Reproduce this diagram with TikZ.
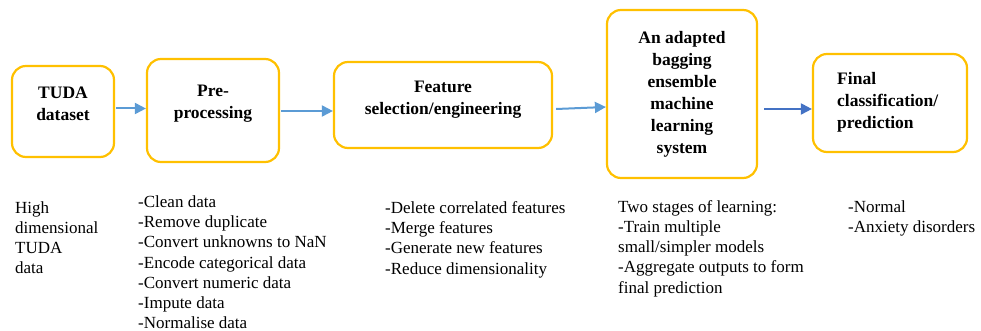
\documentclass[tikz,border=0pt]{standalone}
\usepackage{fontspec}
\setmainfont{Liberation Serif}[BoldFont={Liberation Serif Bold}]
\usetikzlibrary{arrows.meta}
\definecolor{boxor}{HTML}{FFC000}
\definecolor{arrl}{HTML}{5B9BD5}
\definecolor{arrd}{HTML}{4472C4}
\begin{document}
\begin{tikzpicture}[x=1pt,y=-1pt,
  box/.style={draw=boxor,line width=2.2pt,rounded corners=14pt,inner sep=0pt},
  title/.style={font={\fontsize{17.5}{22}\selectfont\bfseries},align=center,anchor=north,inner sep=0pt},
  desc/.style={font={\fontsize{17}{20.2}\selectfont},align=left,anchor=north west,inner sep=0pt},
  arr/.style={draw=arrl,line width=2pt,-{Triangle[length=11pt,width=11pt]}},
  arrdark/.style={arr,draw=arrd}]
\useasboundingbox (0,0) rectangle (981,331);
% boxes
\node[box,minimum width=102pt,minimum height=91pt] (b1) at (63,111.5) {};
\node[box,minimum width=132pt,minimum height=103pt] (b2) at (213,110.5) {};
\node[box,minimum width=218pt,minimum height=86pt] (b3) at (443,105) {};
\node[box,minimum width=150pt,minimum height=168pt] (b4) at (682,94) {};
\node[box,minimum width=154pt,minimum height=98pt] (b5) at (890,103) {};
% titles
\node[title] (t1) at (63,86.3) {TUDA\\dataset};
\node[title] (t2) at (213,85.3) {Pre-\\processing};
\node[title] (t3) at (443,81.3) {Feature\\selection/engineering};
\node[title] (t4) at (682,31.3) {An adapted\\bagging\\ensemble\\machine\\learning\\system};
\node[title,align=left,anchor=north west] (t5) at (837,72.3) {Final\\classification/\\prediction};
% descriptions
\node[desc] (d1) at (15,201.4) {High\\dimensional\\TUDA\\data};
\node[desc] (d2) at (138,195.6) {-Clean data\\-Remove duplicate\\-Convert unknowns to NaN\\-Encode categorical data\\-Convert numeric data\\-Impute data\\-Normalise data};
\node[desc] (d3) at (385,201.4) {-Delete correlated features\\-Merge features\\-Generate new features\\-Reduce dimensionality};
\node[desc] (d4) at (618,200.2) {Two stages of learning:\\-Train multiple\\small/simpler models\\-Aggregate outputs to form\\final prediction};
\node[desc] (d5) at (848,200.2) {-Normal\\-Anxiety disorders};
% arrows
\draw[arr] ([shift={(1,-3)}]b1.east) -- ([shift={(0,-3)}]b1.east -| b2.west);
\draw[arr] ([shift={(1,0.5)}]b2.east) -- ([shift={(0,0.5)}]b2.east -| b3.west);
\draw[arr] ([shift={(3,4)}]b3.east) -- ([shift={(0,2)}]b3.east -| b4.west);
\draw[arrdark] ([shift={(6,15)}]b4.east) -- ([shift={(0,15)}]b4.east -| b5.west);
\end{tikzpicture}
\end{document}
